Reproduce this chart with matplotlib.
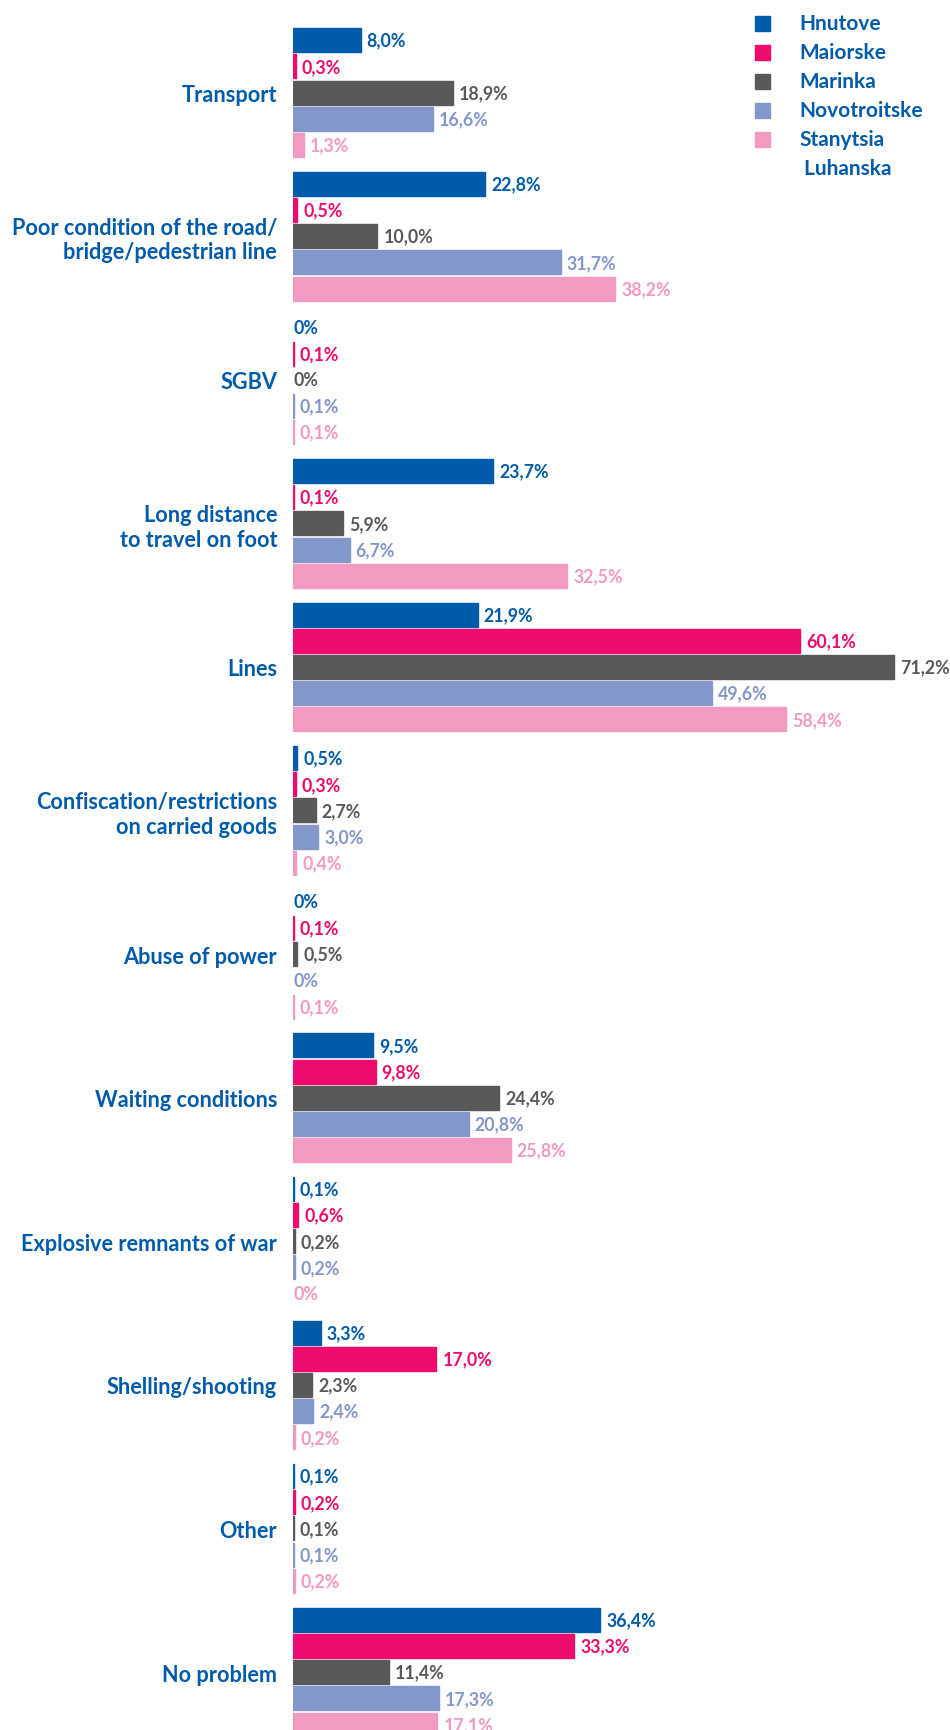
"""Perceived problems at the crossing points: grouped horizontal bars per location."""

import matplotlib
matplotlib.use("Agg")
import matplotlib.pyplot as plt
from matplotlib.patches import Rectangle

plt.rcParams["font.family"] = ["Lato", "DejaVu Sans"]
plt.rcParams["font.weight"] = "bold"

categories = [
    "Transport",
    "Poor condition of the road/\nbridge/pedestrian line",
    "SGBV",
    "Long distance\nto travel on foot",
    "Lines",
    "Confiscation/restrictions\non carried goods",
    "Abuse of power",
    "Waiting conditions",
    "Explosive remnants of war",
    "Shelling/shooting",
    "Other",
    "No problem",
]
locations = ["Hnutove", "Maiorske", "Marinka", "Novotroitske", "Stanytsia\n Luhanska"]

hnutove = [8.0, 22.8, 0.0, 23.7, 21.9, 0.5, 0.0, 9.5, 0.1, 3.3, 0.1, 36.4]
maiorske = [0.3, 0.5, 0.1, 0.1, 60.1, 0.3, 0.1, 9.8, 0.6, 17.0, 0.2, 33.3]
marinka = [18.9, 10.0, 0.0, 5.9, 71.2, 2.7, 0.5, 24.4, 0.2, 2.3, 0.1, 11.4]
novotroitske = [16.6, 31.7, 0.1, 6.7, 49.6, 3.0, 0.0, 20.8, 0.2, 2.4, 0.1, 17.3]
stanytsia = [1.3, 38.2, 0.1, 32.5, 58.4, 0.4, 0.1, 25.8, 0.0, 0.2, 0.2, 17.1]

series = [hnutove, maiorske, marinka, novotroitske, stanytsia]
bar_colors = ["#005BAA", "#ED0C6E", "#58595B", "#8497CB", "#F39AC3"]
text_colors = ["#005BAA", "#ED0C6E", "#58595B", "#8497CB", "#F39AC3"]
LABEL_BLUE = "#005BAA"

W, H = 950, 1731
X0 = 293            # bar baseline, px
PX_PER_PCT = 8.44
TOP_CENTER = 93.5   # first group centre, px from top
GROUP_PITCH = 143.6
BAR_STEP = 26.2 / GROUP_PITCH
BAR_H = 24.0 / GROUP_PITCH


def fmt(v):
    if v == 0:
        return "0%"
    return f"{v:.1f}".replace(".", ",") + "%"


def main() -> None:
    fig = plt.figure(figsize=(W / 100, H / 100), dpi=100)
    ax = fig.add_axes([X0 / W, 0, (W - X0) / W, 1])
    ax.set_xlim(0, (W - X0) / PX_PER_PCT)
    ax.set_ylim((H - TOP_CENTER) / GROUP_PITCH, -TOP_CENTER / GROUP_PITCH)

    n = len(series)
    for j, (vals, bc, tc) in enumerate(zip(series, bar_colors, text_colors)):
        ys = [i + (j - (n - 1) / 2) * BAR_STEP for i in range(len(categories))]
        for y, v in zip(ys, vals):
            if v > 0:
                ax.barh(y, v, height=BAR_H, color=bc, edgecolor=bc, linewidth=1.0)
            off = 6 if v > 0 else 1
            ax.annotate(fmt(v), xy=(v, y), xytext=(off, 0), textcoords="offset pixels",
                        ha="left", va="center", fontsize=12.8, color=tc, fontweight="bold")

    ax.set_yticks(range(len(categories)))
    ax.set_yticklabels(categories, fontsize=15.6, color=LABEL_BLUE, fontweight="bold",
                       linespacing=1.2)
    ax.tick_params(axis="y", length=0, pad=11.5)
    ax.set_xticks([])
    for s in ax.spines.values():
        s.set_visible(False)

    # legend, drawn in pixel coordinates
    lax = fig.add_axes([0, 0, 1, 1])
    lax.set_xlim(0, W)
    lax.set_ylim(H, 0)
    lax.axis("off")
    row_y = [24, 53, 82, 111, 140]
    for name, c, y in zip(locations, bar_colors, row_y):
        lax.add_patch(Rectangle((755, y - 7.5), 15, 15, color=c))
        lines = name.split("\n")
        for k, line in enumerate(lines):
            lax.text(799, y + 29 * k, line, ha="left", va="center", fontsize=15,
                     color=LABEL_BLUE, fontweight="bold")

    fig.savefig("out.png", dpi=100)
    plt.close(fig)


if __name__ == "__main__":
    main()
